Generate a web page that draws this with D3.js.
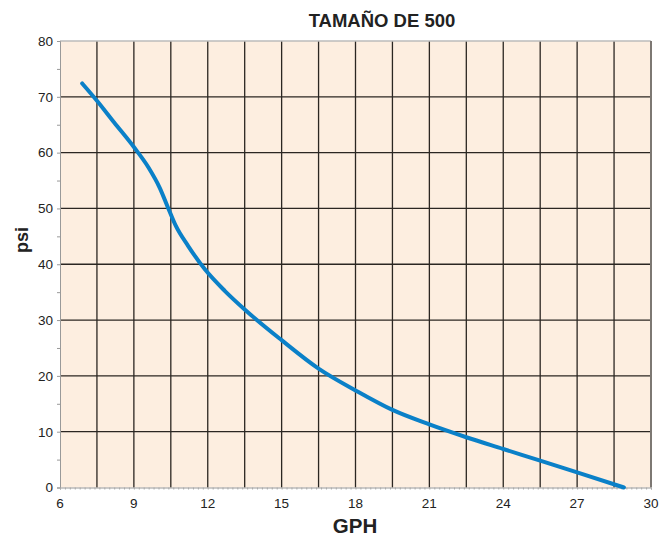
<!DOCTYPE html>
<html>
<head>
<meta charset="utf-8">
<script src="https://cdn.jsdelivr.net/npm/d3@7"></script>
<style>
  body { margin: 0; background: #fff; }
  text { font-family: "Liberation Sans", Arial, Helvetica, sans-serif; fill: #222; }
</style>
</head>
<body>
<script>
var gph = [6.9, 7.5, 8.2, 9.0, 9.6, 10.05, 10.4, 10.7, 11.2, 11.9, 12.7, 13.5, 15.0, 16.5, 18.0, 19.5, 21.0, 22.5, 24.0, 25.5, 27.0, 28.9];
var psi = [72.4, 69.3, 65.4, 61.0, 57.3, 53.7, 50.0, 46.9, 43.3, 39.0, 35.2, 31.9, 26.4, 21.3, 17.4, 13.9, 11.3, 9.0, 6.9, 4.8, 2.7, 0];
var xTicks = [6, 9, 12, 15, 18, 21, 24, 27, 30];
var yTicks = [0, 10, 20, 30, 40, 50, 60, 70, 80];
var title = "TAMAÑO DE 500";

var width = 669, height = 536;
var plotLeft = 60, plotRight = 651, plotTop = 41, plotBottom = 487.5;

var svg = d3.select("body").append("svg").attr("width", width).attr("height", height);

var x = d3.scaleLinear().domain([6, 30]).range([plotLeft, plotRight]);
var y = d3.scaleLinear().domain([0, 80]).range([plotBottom, plotTop]);

svg.append("rect")
    .attr("x", plotLeft).attr("y", plotTop)
    .attr("width", plotRight - plotLeft).attr("height", plotBottom - plotTop)
    .attr("fill", "#fdeee0");

// vertical grid every 1.5
var vGrid = d3.range(7.5, 30, 1.5);
svg.append("g").selectAll("line")
    .data(vGrid)
    .enter().append("line")
    .attr("x1", function (d) { return x(d); })
    .attr("x2", function (d) { return x(d); })
    .attr("y1", plotTop).attr("y2", plotBottom)
    .attr("stroke", "#2b2622")
    .attr("stroke-width", 1.3);

svg.append("g").selectAll("line")
    .data(yTicks.slice(1, -1))
    .enter().append("line")
    .attr("x1", plotLeft).attr("x2", plotRight)
    .attr("y1", function (d) { return y(d); })
    .attr("y2", function (d) { return y(d); })
    .attr("stroke", "#2b2622")
    .attr("stroke-width", 1.3);

// frame
svg.append("line").attr("x1", plotLeft).attr("x2", plotRight).attr("y1", plotTop).attr("y2", plotTop)
    .attr("stroke", "#bbb").attr("stroke-width", 1.5);
svg.append("line").attr("x1", plotRight).attr("x2", plotRight).attr("y1", plotTop).attr("y2", plotBottom)
    .attr("stroke", "#7d7873").attr("stroke-width", 2);

// axes
var yAxis = d3.axisLeft(y).tickValues(d3.range(0, 81, 5)).tickSize(3).tickFormat(function (d) {
    return d % 10 === 0 ? d : "";
});
var gy = svg.append("g").attr("transform", "translate(" + plotLeft + ",0)").call(yAxis);
gy.select(".domain").attr("stroke", "#999");
gy.selectAll(".tick line").attr("stroke", "#999");
gy.selectAll(".tick text").attr("font-size", 13.5).attr("x", -7);

var xAxis = d3.axisBottom(x).tickValues(d3.range(6, 30.01, 0.2)).tickSize(2).tickFormat("");
var gx = svg.append("g").attr("transform", "translate(0," + plotBottom + ")").call(xAxis);
gx.select(".domain").attr("stroke", "#999");
gx.selectAll(".tick line").attr("stroke", "#aaa");

svg.append("g").selectAll("text")
    .data(xTicks)
    .enter().append("text")
    .attr("x", function (d) { return x(d); })
    .attr("y", 508)
    .attr("text-anchor", "middle")
    .attr("font-size", 13.5)
    .text(function (d) { return d; });

// curve
var pts = gph.map(function (d, i) { return [d, psi[i]]; });
var line = d3.line()
    .x(function (d) { return x(d[0]); })
    .y(function (d) { return y(d[1]); })
    .curve(d3.curveMonotoneX);
svg.append("path")
    .datum(pts)
    .attr("d", line)
    .attr("fill", "none")
    .attr("stroke", "#0a80c8")
    .attr("stroke-width", 4)
    .attr("stroke-linecap", "round");

// labels
svg.append("text").attr("x", 382).attr("y", 27).attr("text-anchor", "middle")
    .attr("font-size", 18.5).attr("font-weight", "bold").text(title);
svg.append("text").attr("x", 355).attr("y", 533).attr("text-anchor", "middle")
    .attr("font-size", 20.5).attr("font-weight", "bold").text("GPH");
svg.append("text").attr("transform", "translate(28,240) rotate(-90)").attr("text-anchor", "middle")
    .attr("font-size", 18).attr("font-weight", "bold").text("psi");
</script>
</body>
</html>
